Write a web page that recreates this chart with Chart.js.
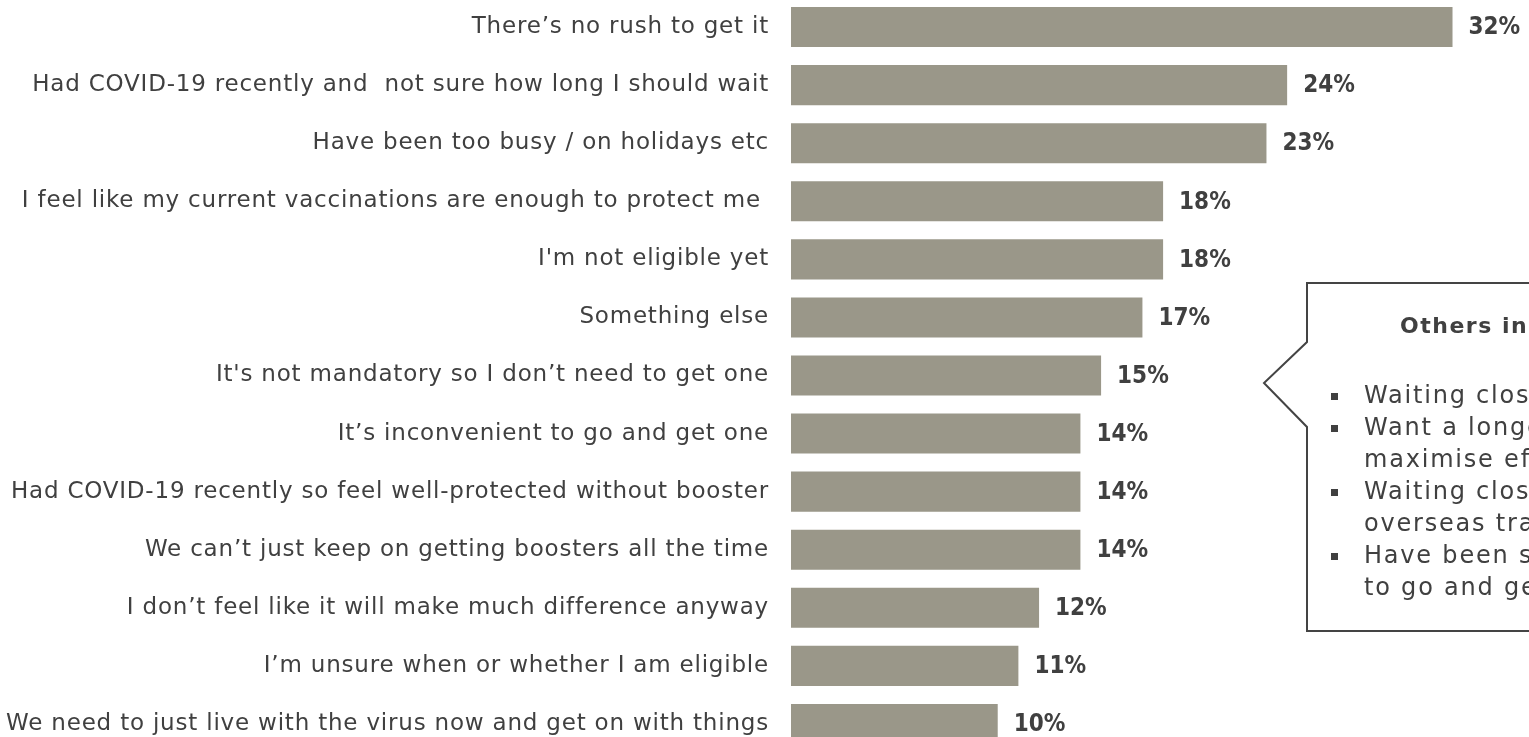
<!DOCTYPE html>
<html lang="en">
<head>
<meta charset="UTF-8">
<title>Reasons for not getting booster</title>
<script src="https://cdn.jsdelivr.net/npm/chart.js"></script>
<style>
  html, body { margin: 0; padding: 0; background: #fff; overflow: hidden; }
  #wrap { position: absolute; left: 0; top: -2px; width: 1529px; height: 755px; }
</style>
</head>
<body>
<div id="wrap"><canvas id="reasonsChart"></canvas></div>

<script>
// data
const reasons = [
    'There\u2019s no rush to get it',
    'Had COVID-19 recently and  not sure how long I should wait',
    'Have been too busy / on holidays etc',
    'I feel like my current vaccinations are enough to protect me ',
    'I\'m not eligible yet',
    'Something else',
    'It\'s not mandatory so I don\u2019t need to get one',
    'It\u2019s inconvenient to go and get one',
    'Had COVID-19 recently so feel well-protected without booster',
    'We can\u2019t just keep on getting boosters all the time',
    'I don\u2019t feel like it will make much difference anyway',
    'I\u2019m unsure when or whether I am eligible',
    'We need to just live with the virus now and get on with things'
];
const percents = [32, 24, 23, 18, 18, 17, 15, 14, 14, 14, 12, 11, 10];

const calloutTitle = 'Others include:';
const calloutLines = [
    ['Waiting closer to winter'],
    ['Want a longer gap to', 'maximise effectiveness'],
    ['Waiting closer to', 'overseas travel'],
    ['Have been sick / unable', 'to go and get it']
];

const TEXT = '#404040';

// a little extra spacing for the category labels (reference font is a wide geometric sans)
const spacing = {
    id: 'spacing',
    beforeDraw(chart) { chart.ctx.letterSpacing = '0.8px'; },
    afterDraw(chart) { chart.ctx.letterSpacing = '0px'; }
};

// bold % after each bar
const valueLabels = {
    id: 'valueLabels',
    afterDatasetsDraw(chart) {
        const ctx = chart.ctx;
        const meta = chart.getDatasetMeta(0);
        ctx.save();
        ctx.letterSpacing = '0px';
        ctx.font = 'bold 24px "DejaVu Sans Condensed", "DejaVu Sans"';
        ctx.fillStyle = TEXT;
        ctx.textBaseline = 'middle';
        ctx.textAlign = 'left';
        meta.data.forEach((bar, i) => {
            ctx.fillText(percents[i] + '%', bar.x + 16, bar.y + 1);
        });
        ctx.restore();
    }
};

// speech-bubble box on the right
const callout = {
    id: 'callout',
    afterDraw(chart) {
        const ctx = chart.ctx;
        const dy = 2; // canvas is shifted up 2px
        ctx.save();
        ctx.strokeStyle = '#444';
        ctx.lineWidth = 2;
        ctx.beginPath();
        ctx.moveTo(1540, 283 + dy);
        ctx.lineTo(1307, 283 + dy);
        ctx.lineTo(1307, 342 + dy);
        ctx.lineTo(1264, 383 + dy);
        ctx.lineTo(1307, 427 + dy);
        ctx.lineTo(1307, 631 + dy);
        ctx.lineTo(1540, 631 + dy);
        ctx.stroke();

        ctx.fillStyle = TEXT;
        ctx.textBaseline = 'middle';
        ctx.letterSpacing = '1.5px';
        ctx.font = 'bold 22px "DejaVu Sans"';
        ctx.fillText(calloutTitle, 1400, 327 + dy);

        ctx.letterSpacing = '1.8px';
        ctx.font = '24px "DejaVu Sans"';
        let y = 397;
        calloutLines.forEach(item => {
            ctx.fillRect(1331, y + dy - 4, 7, 7);
            item.forEach(line => {
                ctx.fillText(line, 1364, y + dy);
                y += 32;
            });
        });
        ctx.restore();
    }
};

new Chart(document.getElementById('reasonsChart'), {
    type: 'bar',
    data: {
        labels: reasons,
        datasets: [{
            data: percents,
            backgroundColor: '#9A9789',
            borderWidth: 0,
            categoryPercentage: 1,
            barPercentage: 0.69
        }]
    },
    options: {
        indexAxis: 'y',
        responsive: true,
        maintainAspectRatio: false,
        animation: false,
        layout: { padding: 0 },
        plugins: {
            legend: { display: false },
            tooltip: { enabled: false }
        },
        scales: {
            x: {
                display: false,
                min: 0,
                max: 35.7
            },
            y: {
                afterFit(scale) {
                    scale.width = 791;
                    scale.paddingTop = 0;
                    scale.paddingBottom = 0;
                },
                grid: { display: false, drawTicks: false },
                border: { display: false },
                ticks: {
                    padding: 22,
                    color: TEXT,
                    font: { family: '"DejaVu Sans"', size: 23 }
                }
            }
        }
    },
    plugins: [spacing, valueLabels, callout]
});
</script>
</body>
</html>
